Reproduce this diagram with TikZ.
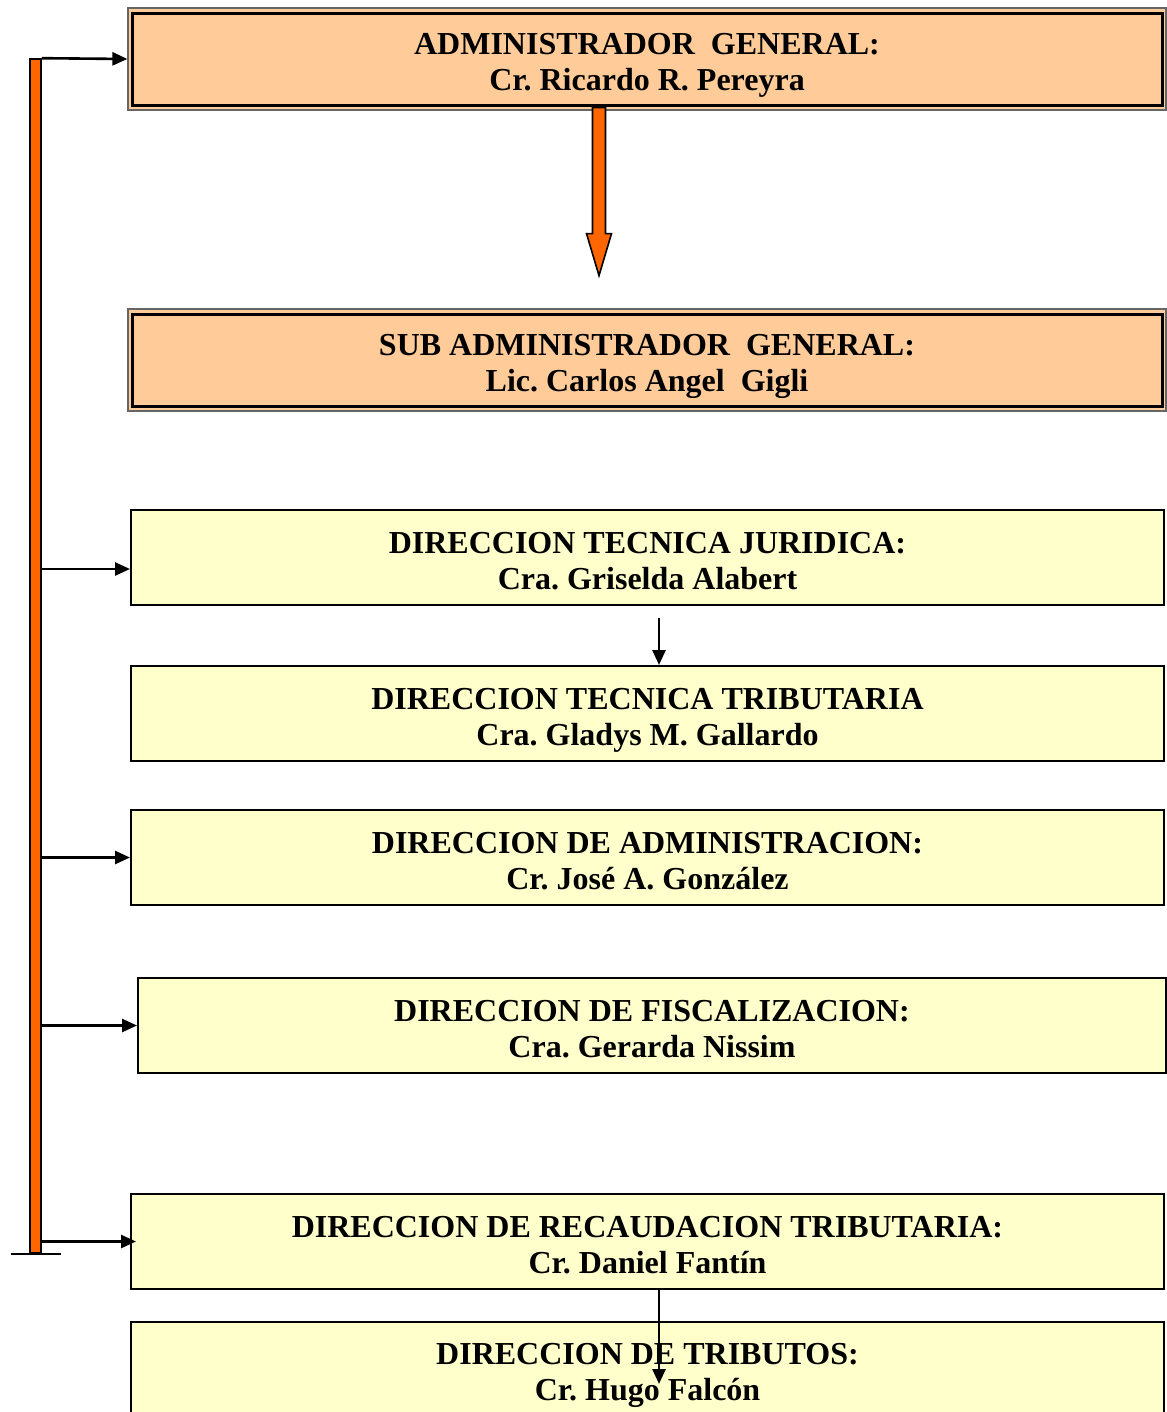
\documentclass[tikz,border=0pt]{standalone}
\usepackage{fontspec}
\setmainfont{Liberation Serif}
\usetikzlibrary{arrows.meta,calc}
\definecolor{peach}{HTML}{FFCC99}
\definecolor{paleyellow}{HTML}{FFFFCC}
\definecolor{barorange}{HTML}{FF6600}
\frenchspacing
% title line and name line of a box, with fixed line heights
\newcommand\boxtext[2]{\rule{0pt}{17pt}#1\\#2\rule[-3.5pt]{0pt}{0pt}}

\begin{document}
\begin{tikzpicture}[x=0.5pt,y=-0.5pt,
    every node/.style = {align=center, font=\bfseries\fontsize{16}{18}\selectfont},
    chief/.style={draw=black!60, line width=0.6pt, fill=peach,
        minimum width=519pt, minimum height=51pt, inner sep=0pt},
    office/.style={draw=black, line width=1pt, fill=paleyellow,
        minimum width=516.5pt, minimum height=47.5pt, inner sep=0pt},
    conn/.style={-{Triangle[length=7.5pt,width=6.5pt]}, line width=1.3pt},
    orangebar/.style={fill=barorange, draw=black, line width=0.8pt}]
    \useasboundingbox (0,0) rectangle (1166,1412);
    \node[chief] (admin) at (647, 59) {\boxtext{ADMINISTRADOR~ GENERAL:}{Cr. Ricardo R. Pereyra}};
    \draw[line width=1.6pt] ([shift={(5,-5)}]admin.south west) rectangle ([shift={(-4,6)}]admin.north east);
    \node[chief] (subadmin) at (647, 360) {\boxtext{SUB ADMINISTRADOR~ GENERAL:}{Lic. Carlos Angel~ Gigli}};
    \draw[line width=1.6pt] ([shift={(5,-5)}]subadmin.south west) rectangle ([shift={(-4,6)}]subadmin.north east);
    \node[office] (dtj) at (647.5, 557.5) {\boxtext{DIRECCION TECNICA JURIDICA:}{Cra. Griselda Alabert}};
    \node[office] (dtt) at (647.5, 713.5) {\boxtext{DIRECCION TECNICA TRIBUTARIA}{Cra. Gladys M. Gallardo}};
    \node[office] (dadm) at (647.5, 857.5) {\boxtext{DIRECCION DE ADMINISTRACION:}{Cr. Jos\'e A. Gonz\'alez}};
    \node[office, minimum width=514pt] (dfis) at (652, 1025.5) {\boxtext{DIRECCION DE FISCALIZACION:}{Cra. Gerarda Nissim}};
    \node[office] (drec) at (647.5, 1241.5) {\boxtext{DIRECCION DE RECAUDACION TRIBUTARIA:}{Cr. Daniel Fant\'in}};
    \node[office] (dtrib) at (647.5, 1369.5) {\boxtext{DIRECCION DE TRIBUTOS:}{Cr. Hugo Falc\'on}};

    % orange bar on the left
    \node[orangebar, minimum width=5.5pt, minimum height=597pt, inner sep=0pt] (bar) at (35.5, 656) {};
    \draw[line width=1pt] ([shift={(-25,0)}]bar.south) -- ([shift={(25,0)}]bar.south);

    % big orange arrow under the administrator
    \coordinate (tip) at ([shift={(-48,165)}]admin.south);
    \filldraw[orangebar] ($(tip)+(-6.5,-168)$) -- ($(tip)+(-6.5,-42)$) -- ($(tip)+(-12.5,-42)$)
        -- (tip) -- ($(tip)+(12.5,-42)$) -- ($(tip)+(6.5,-42)$) -- ($(tip)+(6.5,-168)$) -- cycle;

    \draw[conn] (bar.north east) -- (admin.west);
    \draw[conn] (bar.east |- 0,569) -- (dtj.west |- 0,569);
    \draw[conn] (bar.east |- dadm.west) -- (dadm.west);
    \draw[conn] (bar.east |- dfis.west) -- (dfis.west);
    \draw[conn] (bar.east |- drec.west) -- ([shift={(6,0)}]drec.west);
    \draw[conn] ([shift={(11.5,12)}]dtj.south) -- ([shift={(11.5,0)}]dtt.north);
    \draw[conn] ([shift={(11.5,0)}]drec.south) -- ([shift={(11.5,63)}]dtrib.north);
\end{tikzpicture}
\end{document}
